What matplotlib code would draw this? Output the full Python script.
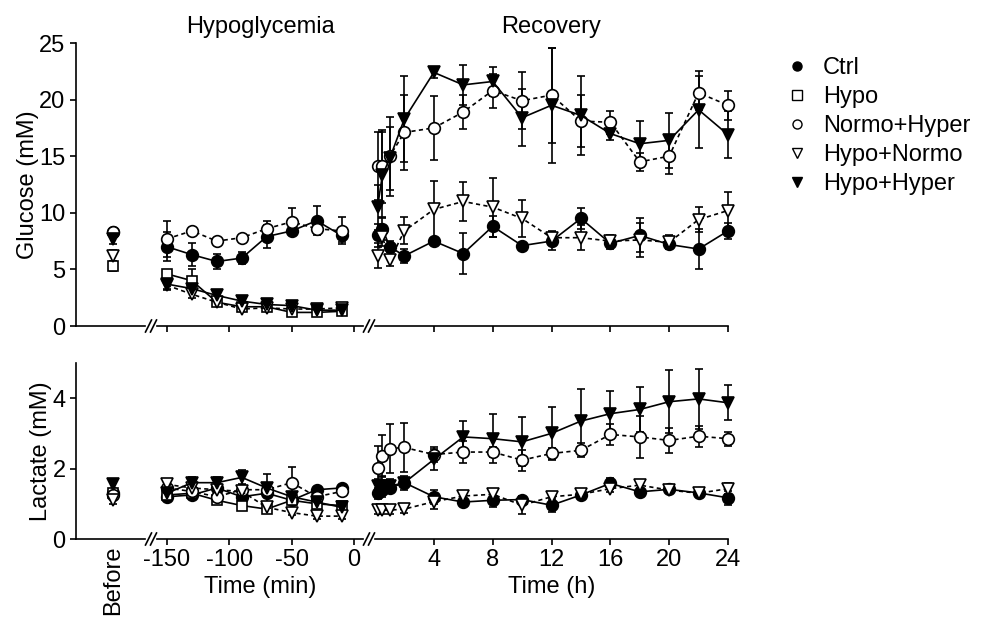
import matplotlib
matplotlib.use('Agg')
import matplotlib.pyplot as plt
from matplotlib.lines import Line2D

plt.rcParams['font.family'] = ['Liberation Sans', 'DejaVu Sans']
plt.rcParams['axes.unicode_minus'] = False

# ---- data (mean, SEM) ----
groups = ['Ctrl', 'Hypo', 'Normo+Hyper', 'Hypo+Normo', 'Hypo+Hyper']
t_hypo = [-150, -130, -110, -90, -70, -50, -30, -10]
t_rec = [0.17, 0.5, 1, 2, 4, 6, 8, 10, 12, 14, 16, 18, 20, 22, 24]

# glucose
glu_before = [8.3, 5.3, 8.3, 6.2, 7.7]
glu_before_se = [0.3, 0.4, 0.3, 0.5, 0.5]

glu_hypo_ctrl = [7.0, 6.3, 5.7, 6.0, 7.9, 8.4, 9.3, 8.0]
glu_hypo_ctrl_se = [1.3, 1.0, 0.7, 0.5, 1.0, 0.4, 1.3, 0.6]
glu_hypo_hypo = [4.6, 4.0, 2.1, 1.7, 1.7, 1.2, 1.2, 1.3]
glu_hypo_hypo_se = [0.3, 1.0, 0.3, 0.2, 0.2, 0.2, 0.2, 0.2]
glu_hypo_nh = [7.7, 8.4, 7.5, 7.8, 8.6, 9.2, 8.6, 8.4]
glu_hypo_nh_se = [1.6, 0.2, 0.2, 0.2, 0.7, 1.2, 0.3, 1.2]
glu_hypo_hn = [3.6, 2.8, 2.1, 1.5, 1.6, 1.5, 1.5, 1.6]
glu_hypo_hn_se = [0.3, 0.3, 0.2, 0.2, 0.2, 0.2, 0.2, 0.2]
glu_hypo_hh = [3.7, 3.3, 2.7, 2.2, 1.9, 1.8, 1.4, 1.4]
glu_hypo_hh_se = [0.5, 0.3, 0.2, 0.2, 0.2, 0.2, 0.2, 0.2]

glu_rec_ctrl = [8.0, 8.6, 7.0, 6.2, 7.5, 6.4, 8.8, 7.1, 7.5, 9.5, 7.3, 8.0, 7.2, 6.8, 8.4]
glu_rec_ctrl_se = [1.0, 1.0, 0.5, 0.6, 0.0, 1.8, 0.9, 0.2, 0.8, 0.9, 0.5, 1.5, 0.4, 1.8, 0.7]
glu_rec_nh = [14.1, 14.1, 15.0, 17.1, 17.5, 18.9, 20.8, 19.9, 20.4, 18.1, 18.0, 14.5, 15.0, 20.6, 19.5]
glu_rec_nh_se = [3.0, 3.2, 3.5, 3.3, 2.8, 1.5, 1.5, 2.5, 4.2, 2.3, 1.0, 0.8, 1.6, 1.5, 1.3]
glu_rec_hn = [6.2, 7.9, 5.8, 8.4, 10.3, 11.0, 10.5, 9.5, 7.8, 7.8, 7.5, 7.6, 7.4, 9.4, 10.2]
glu_rec_hn_se = [1.1, 0.8, 0.5, 1.2, 2.5, 1.7, 2.6, 1.6, 0.6, 1.1, 0.5, 1.5, 0.6, 1.1, 1.6]
glu_rec_hh = [10.5, 13.3, 14.8, 18.3, 22.4, 21.3, 21.6, 18.4, 19.5, 18.6, 17.0, 16.1, 16.4, 19.1, 16.9]
glu_rec_hh_se = [2.0, 3.8, 2.8, 3.8, 0.5, 1.8, 1.3, 2.5, 5.1, 3.5, 0.6, 2.0, 2.4, 3.4, 2.1]

# lactate
lac_before = [1.3, 1.3, 1.25, 1.1, 1.55]
lac_before_se = [0.1, 0.1, 0.1, 0.1, 0.12]

lac_hypo_ctrl = [1.2, 1.25, 1.45, 1.2, 1.3, 1.1, 1.4, 1.45]
lac_hypo_ctrl_se = [0.05, 0.08, 0.1, 0.08, 0.1, 0.08, 0.05, 0.05]
lac_hypo_hypo = [1.25, 1.3, 1.1, 0.95, 0.85, 1.1, 1.0, 0.95]
lac_hypo_hypo_se = [0.05, 0.05, 0.08, 0.08, 0.1, 0.08, 0.08, 0.08]
lac_hypo_nh = [1.45, 1.35, 1.2, 1.4, 1.4, 1.6, 1.2, 1.35]
lac_hypo_nh_se = [0.1, 0.1, 0.1, 0.1, 0.1, 0.45, 0.1, 0.08]
lac_hypo_hn = [1.55, 1.45, 1.4, 1.35, 0.9, 0.75, 0.65, 0.65]
lac_hypo_hn_se = [0.08, 0.08, 0.08, 0.1, 0.1, 0.08, 0.08, 0.08]
lac_hypo_hh = [1.3, 1.6, 1.6, 1.75, 1.45, 1.2, 1.05, 0.9]
lac_hypo_hh_se = [0.1, 0.15, 0.15, 0.2, 0.4, 0.1, 0.1, 0.1]

lac_rec_ctrl = [1.3, 1.4, 1.45, 1.6, 1.2, 1.05, 1.1, 1.12, 0.96, 1.25, 1.58, 1.34, 1.41, 1.31, 1.17]
lac_rec_ctrl_se = [0.15, 0.15, 0.1, 0.1, 0.2, 0.1, 0.2, 0.1, 0.2, 0.05, 0.15, 0.1, 0.05, 0.1, 0.2]
lac_rec_nh = [2.03, 2.35, 2.57, 2.6, 2.4, 2.47, 2.47, 2.24, 2.43, 2.52, 2.97, 2.9, 2.8, 2.92, 2.85]
lac_rec_nh_se = [0.6, 0.6, 0.7, 0.7, 0.2, 0.3, 0.15, 0.3, 0.15, 0.2, 0.3, 0.6, 0.35, 0.3, 0.2]
lac_rec_hn = [0.82, 0.82, 0.82, 0.85, 1.06, 1.22, 1.27, 0.96, 1.2, 1.27, 1.43, 1.53, 1.39, 1.3, 1.43]
lac_rec_hn_se = [0.1, 0.1, 0.1, 0.1, 0.2, 0.1, 0.1, 0.25, 0.1, 0.05, 0.1, 0.15, 0.05, 0.1, 0.15]
lac_rec_hh = [1.5, 1.5, 1.5, 1.6, 2.26, 2.9, 2.85, 2.76, 3.0, 3.35, 3.56, 3.68, 3.9, 3.98, 3.87]
lac_rec_hh_se = [0.2, 0.3, 0.2, 0.2, 0.3, 0.45, 0.7, 0.7, 0.75, 0.9, 0.65, 0.65, 0.9, 0.85, 0.5]

glu_hypo = {'Ctrl': (glu_hypo_ctrl, glu_hypo_ctrl_se), 'Hypo': (glu_hypo_hypo, glu_hypo_hypo_se),
            'Normo+Hyper': (glu_hypo_nh, glu_hypo_nh_se), 'Hypo+Normo': (glu_hypo_hn, glu_hypo_hn_se),
            'Hypo+Hyper': (glu_hypo_hh, glu_hypo_hh_se)}
glu_rec = {'Ctrl': (glu_rec_ctrl, glu_rec_ctrl_se), 'Normo+Hyper': (glu_rec_nh, glu_rec_nh_se),
           'Hypo+Normo': (glu_rec_hn, glu_rec_hn_se), 'Hypo+Hyper': (glu_rec_hh, glu_rec_hh_se)}
lac_hypo = {'Ctrl': (lac_hypo_ctrl, lac_hypo_ctrl_se), 'Hypo': (lac_hypo_hypo, lac_hypo_hypo_se),
            'Normo+Hyper': (lac_hypo_nh, lac_hypo_nh_se), 'Hypo+Normo': (lac_hypo_hn, lac_hypo_hn_se),
            'Hypo+Hyper': (lac_hypo_hh, lac_hypo_hh_se)}
lac_rec = {'Ctrl': (lac_rec_ctrl, lac_rec_ctrl_se), 'Normo+Hyper': (lac_rec_nh, lac_rec_nh_se),
           'Hypo+Normo': (lac_rec_hn, lac_rec_hn_se), 'Hypo+Hyper': (lac_rec_hh, lac_rec_hh_se)}

# ---- styles ----
dash = (0, (2.5, 2.0))
style = {'Ctrl': ('o', 'black', '-', 8.4),
         'Hypo': ('s', 'white', '-', 7.6),
         'Normo+Hyper': ('o', 'white', dash, 8.4),
         'Hypo+Normo': ('v', 'white', dash, 8.6),
         'Hypo+Hyper': ('v', 'black', '-', 8.6)}
LW = 1.2
FS = 17

W, H = 987, 619
fig = plt.figure(figsize=(W / 100, H / 100), dpi=100)


def box(x0, x1, ytop, ybot):
    return [x0 / W, 1 - ybot / H, (x1 - x0) / W, (ybot - ytop) / H]


cols = [(76, 145), (157, 363), (375, 728)]
rows = [(43, 326), (363, 539)]

axes = []
for r, (yt, yb) in enumerate(rows):
    row = []
    for c, (x0, x1) in enumerate(cols):
        ax = fig.add_axes(box(x0, x1, yt, yb))
        for s in ['top', 'right']:
            ax.spines[s].set_visible(False)
        for s in ['left', 'bottom']:
            ax.spines[s].set_linewidth(LW)
        ax.tick_params(direction='out', length=4.5, width=LW, labelsize=FS, pad=3)
        if c > 0:
            ax.spines['left'].set_visible(False)
            ax.tick_params(axis='y', left=False, labelleft=False)
        row.append(ax)
    axes.append(row)


def draw(ax, x, y, se, g, line=True):
    m, fc, ls, ms = style[g]
    ax.errorbar(x, y, yerr=se, marker=m, ms=ms, mfc=fc, mec='black', mew=LW,
                color='black', lw=LW if line else 0, ls=ls if line else 'none',
                elinewidth=LW, capsize=3, capthick=LW, clip_on=False, zorder=3)


data = [(glu_before, glu_before_se, glu_hypo, glu_rec),
        (lac_before, lac_before_se, lac_hypo, lac_rec)]

for r, (bef, bef_se, hyp, rec) in enumerate(data):
    axb, axh, axr = axes[r]
    for i, g in enumerate(groups):
        draw(axb, [0], [bef[i]], [bef_se[i]], g, line=False)
    for g in groups:
        if g in hyp:
            draw(axh, t_hypo, hyp[g][0], hyp[g][1], g)
        if g in rec:
            draw(axr, t_rec, rec[g][0], rec[g][1], g)

    axb.set_xlim(-1, 0.85)
    axh.set_xlim(-158, 7.2)
    axr.set_xlim(0, 24)
    axh.set_xticks([-150, -100, -50, 0])
    axr.set_xticks([4, 8, 12, 16, 20, 24])
    if r == 0:
        for ax in axes[r]:
            ax.set_ylim(0, 25)
        axb.set_yticks([0, 5, 10, 15, 20, 25])
        axb.set_xticks([])
        axh.tick_params(axis='x', labelbottom=False)
        axr.tick_params(axis='x', labelbottom=False)
        axb.set_ylabel('Glucose (mM)', fontsize=FS, labelpad=0)
        axh.set_title('Hypoglycemia', fontsize=FS, pad=7)
        axr.set_title('Recovery', fontsize=FS, pad=7)
    else:
        for ax in axes[r]:
            ax.set_ylim(0, 5)
        axb.set_yticks([0, 2, 4])
        axb.set_xticks([0])
        axb.set_xticklabels(['Before'], rotation=90)
        axb.tick_params(axis='x', length=0, pad=5)
        axb.set_ylabel('Lactate (mM)', fontsize=FS, labelpad=0)
        axh.set_xlabel('Time (min)', fontsize=FS, labelpad=3)
        axr.set_xlabel('Time (h)', fontsize=FS, labelpad=3)

    # axis break marks "//" at the left end of hypo and recovery segments
    yt, yb = rows[r]
    for c in (1, 2):
        ax = axes[r][c]
        wpx = cols[c][1] - cols[c][0]
        hpx = yb - yt
        for off in (-8.5, -3.5):
            ax.plot([(off - 3) / wpx, (off + 3) / wpx], [-6 / hpx, 6 / hpx],
                    transform=ax.transAxes, color='black', lw=LW, clip_on=False)

handles = [Line2D([], [], marker=style[g][0], ms=6.5, mfc=style[g][1], mec='black',
                  mew=1.0, ls='none') for g in groups]
fig.legend(handles, groups, loc='upper left', bbox_to_anchor=(785 / W, 1 - 57 / H),
           frameon=False, fontsize=FS, handlelength=1.0, handletextpad=0.6,
           labelspacing=0.3, borderpad=0, borderaxespad=0)

fig.savefig('out.png', dpi=100)
